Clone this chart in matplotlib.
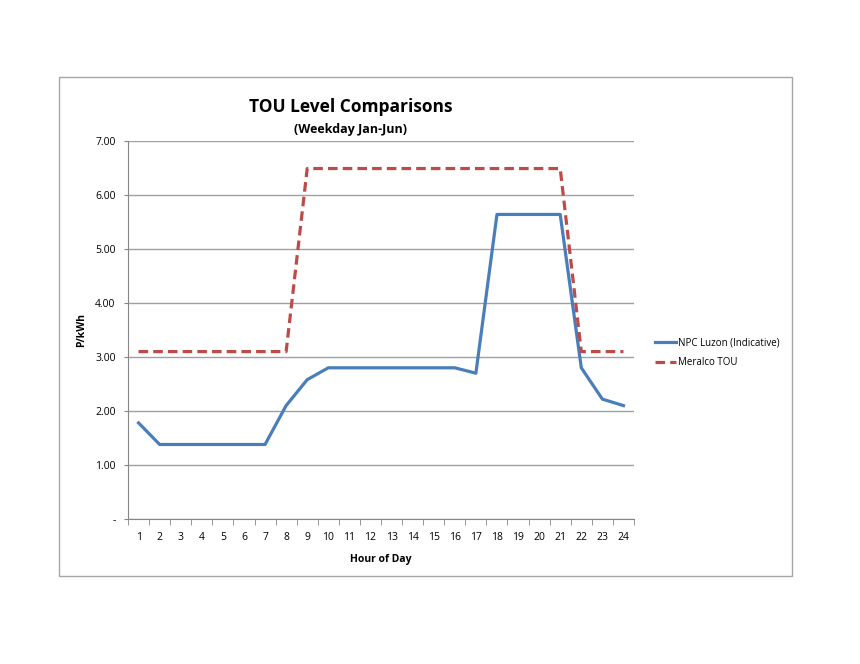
import numpy as np
import matplotlib.pyplot as plt
from matplotlib.patches import Rectangle

plt.rcParams['font.family'] = ['Open Sans', 'DejaVu Sans']

hours = list(range(1, 25))
npc_luzon = [1.78, 1.38, 1.38, 1.38, 1.38, 1.38, 1.38, 2.10, 2.58, 2.80, 2.80, 2.80,
             2.80, 2.80, 2.80, 2.80, 2.70, 5.64, 5.64, 5.64, 5.64, 2.80, 2.22, 2.10]
meralco_tou = [3.10, 3.10, 3.10, 3.10, 3.10, 3.10, 3.10, 3.10, 6.49, 6.49, 6.49, 6.49,
               6.49, 6.49, 6.49, 6.49, 6.49, 6.49, 6.49, 6.49, 6.49, 3.10, 3.10, 3.10]
y_ticks = [0, 1, 2, 3, 4, 5, 6, 7]
y_labels = ['-', '1.00', '2.00', '3.00', '4.00', '5.00', '6.00', '7.00']

fig = plt.figure(figsize=(8.6, 6.64), dpi=100)
# light grey frame round the whole chart
fig.patches.append(Rectangle((59 / 860, 1 - 576 / 664), (792 - 59) / 860, (576 - 77) / 664,
                             transform=fig.transFigure, fill=False,
                             edgecolor='#a6a6a6', linewidth=1.0))

ax = fig.add_axes([128 / 860, 1 - 519 / 664, 506 / 860, 378 / 664])
ax.plot(hours, npc_luzon, color='#4a7ebb', linewidth=2.3, label='NPC Luzon (Indicative)')
ax.plot(hours, meralco_tou, color='#be4b48', linewidth=2.3, linestyle=(0, (3, 1.6)),
        label='Meralco TOU')

ax.set_xlim(0.5, 24.5)
ax.set_ylim(0, 7)
ax.set_yticks(y_ticks)
ax.set_yticklabels(y_labels)
ax.set_xticks(hours)
ax.set_xticks(np.arange(0.5, 25, 1), minor=True)
ax.tick_params(axis='x', which='major', length=0, pad=9, labelsize=7.5)
ax.tick_params(axis='x', which='minor', length=4, color='#868686', direction='out')
ax.tick_params(axis='y', length=3, color='#868686', pad=6, labelsize=7.5)

ax.grid(axis='y', color='#a0a0a0', linewidth=1.0)
ax.set_axisbelow(True)
for s in ['top', 'right']:
    ax.spines[s].set_visible(False)
ax.spines['left'].set_color('#868686')
ax.spines['bottom'].set_color('#868686')

ax.set_xlabel('Hour of Day', fontsize=7.5, fontweight='bold', labelpad=8)
ax.set_ylabel('P/kWh', fontsize=7.5, fontweight='bold', labelpad=6)

fig.text(351 / 860, 1 - 107 / 664, 'TOU Level Comparisons', ha='center', va='center',
         fontsize=12.5, fontweight='bold')
fig.text(351 / 860, 1 - 129 / 664, '(Weekday Jan-Jun)', ha='center', va='center',
         fontsize=9, fontweight='bold')

fig.legend(loc='center left', bbox_to_anchor=(646 / 860, 1 - 353 / 664), frameon=False,
           fontsize=7, handlelength=2.2, handletextpad=0.2, labelspacing=0.9)

fig.savefig('out.png', dpi=100)
